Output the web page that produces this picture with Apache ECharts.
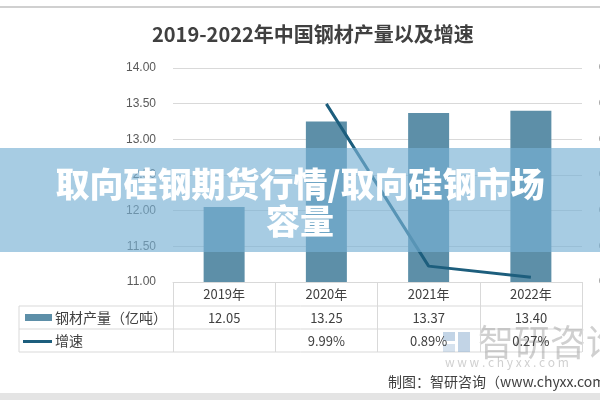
<!DOCTYPE html>
<html>
<head>
<meta charset="utf-8">
<script src="https://cdn.jsdelivr.net/npm/echarts@6/dist/echarts.min.js"></script>
<style>
html, body { margin: 0; padding: 0; background: #fff; }
#main { width: 600px; height: 400px; }
</style>
</head>
<body>
<div id="main"></div>
<script>
var years = ['2019年', '2020年', '2021年', '2022年'];
var output = [12.05, 13.25, 13.37, 13.40];
var growth = [null, 0.0999, 0.0089, 0.0027];
var outputName = '钢材产量（亿吨）';
var growthName = '增速';

var barColor = '#5d8fa8';
var lineColor = '#1d5e7d';
var gridColor = '#d9d9d9';
var font = '"Noto Sans CJK SC", "Liberation Sans", sans-serif';

var chart = echarts.init(document.getElementById('main'));

var option = {
	animation: false,
	title: {
		text: '2019-2022年中国钢材产量以及增速',
		left: 147,
		top: 19,
		textStyle: { fontSize: 20, fontWeight: 'bold', color: '#404040', fontFamily: font }
	},
	grid: { left: 173, right: 18, top: 68, bottom: 118, outerBoundsMode: 'none', containLabel: false },
	xAxis: [{
		type: 'category',
		data: years,
		axisLine: { lineStyle: { color: gridColor } },
		axisTick: { show: true, length: 70, lineStyle: { color: gridColor } },
		axisLabel: { color: '#404040', fontSize: 13, margin: 6, fontFamily: font }
	}, {
		type: 'category',
		position: 'bottom',
		offset: 24,
		data: output.map(function (v) { return v.toFixed(2); }),
		axisLine: { show: false },
		axisTick: { show: false },
		axisLabel: { color: '#404040', fontSize: 13, margin: 6, fontFamily: font }
	}, {
		type: 'category',
		position: 'bottom',
		offset: 47,
		data: growth.map(function (v) { return v == null ? '' : (v * 100).toFixed(2) + '%'; }),
		axisLine: { show: false },
		axisTick: { show: false },
		axisLabel: { color: '#404040', fontSize: 13, margin: 6, fontFamily: font }
	}],
	yAxis: [{
		type: 'value',
		min: 11,
		max: 14,
		interval: 0.5,
		axisLine: { show: false },
		axisTick: { show: false },
		splitLine: { lineStyle: { color: gridColor } },
		axisLabel: {
			color: '#595959', fontSize: 12, margin: 17,
			formatter: function (v) { return v.toFixed(2); }
		}
	}, {
		type: 'value',
		min: 0,
		max: 0.12,
		interval: 0.02,
		axisLine: { show: false },
		axisTick: { show: false },
		splitLine: { show: false },
		axisLabel: {
			color: '#595959', fontSize: 12, margin: 17,
			formatter: function (v) { return v.toFixed(2); }
		}
	}],
	series: [{
		name: outputName,
		type: 'bar',
		data: output,
		barWidth: 41,
		itemStyle: { color: barColor }
	}, {
		name: growthName,
		type: 'line',
		yAxisIndex: 1,
		data: growth,
		symbol: 'none',
		lineStyle: { color: lineColor, width: 3 },
		itemStyle: { color: lineColor }
	}],
	graphic: [
		// table borders
		{ type: 'line', shape: { x1: 19, y1: 306, x2: 582, y2: 306 }, style: { stroke: gridColor } },
		{ type: 'line', shape: { x1: 19, y1: 329, x2: 582, y2: 329 }, style: { stroke: gridColor } },
		{ type: 'line', shape: { x1: 19, y1: 352, x2: 582, y2: 352 }, style: { stroke: gridColor } },
		{ type: 'line', shape: { x1: 19, y1: 306, x2: 19, y2: 352 }, style: { stroke: gridColor } },
		// row keys
		{ type: 'rect', shape: { x: 25, y: 314, width: 27, height: 7 }, style: { fill: barColor } },
		{ type: 'text', x: 55, y: 318, style: { text: outputName, fill: '#404040', font: '14px ' + font, textVerticalAlign: 'middle' } },
		{ type: 'rect', shape: { x: 23, y: 340, width: 29, height: 3 }, style: { fill: lineColor } },
		{ type: 'text', x: 55, y: 341, style: { text: growthName, fill: '#404040', font: '14px ' + font, textVerticalAlign: 'middle' } },
		// watermark
		{ type: 'rect', shape: { x: 443, y: 332, width: 12, height: 9 }, style: { fill: 'rgba(120,160,200,0.45)' } },
		{ type: 'rect', shape: { x: 458, y: 332, width: 12, height: 20 }, style: { fill: 'rgba(120,160,200,0.45)' } },
		{ type: 'rect', shape: { x: 443, y: 344, width: 12, height: 8 }, style: { fill: 'rgba(120,160,200,0.3)' } },
		{ type: 'text', x: 478, y: 342, style: { text: '智研咨询', fill: 'rgba(150,150,150,0.45)', font: '36px ' + font, textVerticalAlign: 'middle' } },
		{ type: 'text', x: 445, y: 362, style: { text: 'w w w . c h y x x . c o m', fill: 'rgba(150,150,150,0.45)', font: '12px ' + font, textVerticalAlign: 'middle' } },
		// footer
		{ type: 'text', x: 388, y: 382, style: { text: '制图：智研咨询（www.chyxx.com）', fill: '#404040', font: '14px ' + font, textVerticalAlign: 'middle' } },
		// frame lines
		{ type: 'rect', shape: { x: 0, y: 6, width: 600, height: 2 }, style: { fill: '#d0d0d0' } },
		{ type: 'rect', shape: { x: 0, y: 393, width: 600, height: 7 }, style: { fill: '#e4e4e4' } },
		// overlay banner
		{ type: 'rect', z: 100, shape: { x: 0, y: 148, width: 600, height: 104 }, style: { fill: 'rgba(120,176,212,0.65)' } },
		{ type: 'text', z: 101, x: 300, y: 184, style: {
			text: '取向硅钢期货行情/取向硅钢市场', fill: '#fff', font: '900 34px ' + font,
			textAlign: 'center', textVerticalAlign: 'middle',
			shadowColor: 'rgba(0,0,0,0.25)', shadowBlur: 2, shadowOffsetY: 1
		} },
		{ type: 'text', z: 101, x: 300, y: 221, style: {
			text: '容量', fill: '#fff', font: '900 34px ' + font,
			textAlign: 'center', textVerticalAlign: 'middle',
			shadowColor: 'rgba(0,0,0,0.25)', shadowBlur: 2, shadowOffsetY: 1
		} }
	]
};

chart.setOption(option);
</script>
</body>
</html>
